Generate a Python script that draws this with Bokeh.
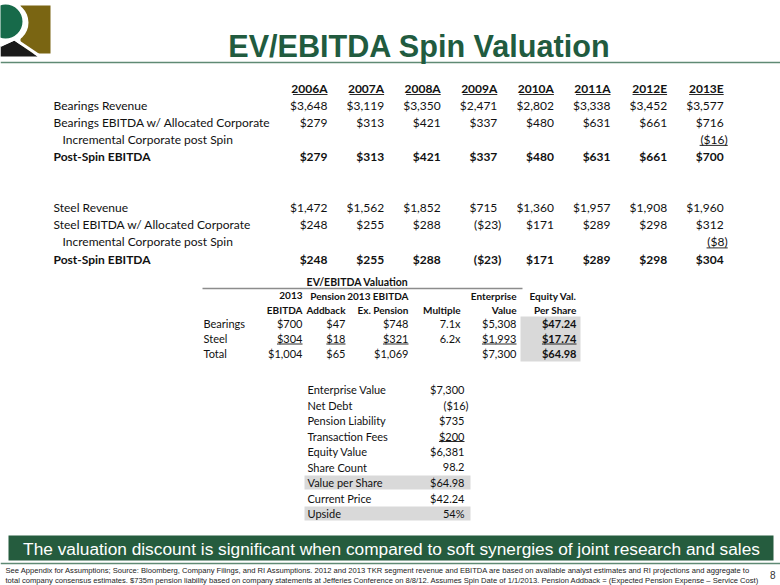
from bokeh.plotting import figure
from bokeh.models import Range1d, ColumnDataSource
from bokeh.core.properties import value
from bokeh.embed import file_html
from bokeh.resources import INLINE

# ---------------- data ----------------
title = "EV/EBITDA Spin Valuation"
years = ["2006A", "2007A", "2008A", "2009A", "2010A", "2011A", "2012E", "2013E"]
bear_labels = ["Bearings Revenue", "Bearings EBITDA w/ Allocated Corporate",
               "Incremental Corporate post Spin", "Post-Spin EBITDA"]
bear_revenue = [3648, 3119, 3350, 2471, 2802, 3338, 3452, 3577]
bear_ebitda = [279, 313, 421, 337, 480, 631, 661, 716]
bear_incr = [None, None, None, None, None, None, None, -16]
bear_post = [279, 313, 421, 337, 480, 631, 661, 700]
steel_labels = ["Steel Revenue", "Steel EBITDA w/ Allocated Corporate",
                "Incremental Corporate post Spin", "Post-Spin EBITDA"]
steel_revenue = [1472, 1562, 1852, 715, 1360, 1957, 1908, 1960]
steel_ebitda = [248, 255, 288, -23, 171, 289, 298, 312]
steel_incr = [None, None, None, None, None, None, None, -8]
steel_post = [248, 255, 288, -23, 171, 289, 298, 304]

val_title = "EV/EBITDA Valuation"
val_head1 = ["2013", "Pension", "2013 EBITDA", "", "Enterprise", "Equity Val."]
val_head2 = ["EBITDA", "Addback", "Ex. Pension", "Multiple", "Value", "Per Share"]
val_segments = ["Bearings", "Steel", "Total"]
ebitda_2013 = [700, 304, 1004]
pension_addback = [47, 18, 65]
ebitda_ex_pension = [748, 321, 1069]
multiple = [7.1, 6.2, None]
enterprise_value = [5308, 1993, 7300]
equity_per_share = [47.24, 17.74, 64.98]

bridge_labels = ["Enterprise Value", "Net Debt", "Pension Liability", "Transaction Fees",
                 "Equity Value", "Share Count", "Value per Share", "Current Price", "Upside"]
bridge_values = [7300, -16, 735, 200, 6381, 98.2, 64.98, 42.24, 0.54]
bridge_kinds = ["usd", "usd", "usd", "usd", "usd", "num", "usd2", "usd2", "pct"]
bridge_underline = [False, False, False, True, False, False, False, False, False]
bridge_shaded = [False, False, False, False, False, False, True, False, True]

banner = "The valuation discount is significant when compared to soft synergies of joint research and sales"
footer = [
    "See Appendix for Assumptions; Source: Bloomberg, Company Filings, and RI Assumptions. 2012 and 2013 TKR segment revenue and EBITDA are based on available analyst estimates and RI projections and aggregate to",
    "total company consensus estimates. $735m pension liability based on company statements at Jefferies Conference on 8/8/12. Assumes Spin Date of 1/1/2013. Pension Addback = (Expected Pension Expense \u2013 Service Cost)",
]
page_no = "8"

# ---------------- helpers ----------------
def usd(v, dec=0):
    if v is None:
        return ""
    s = f"${abs(v):,.{dec}f}"
    return f"({s})" if v < 0 else s

CW = {c: 0.58 for c in "0123456789$"}
CW.update({",": 0.24, ".": 0.24, "(": 0.3, ")": 0.3, "%": 0.8, "x": 0.5, " ": 0.19})

def tw(s, size):
    return sum(CW.get(c, 0.56) for c in s) * size

groups = {}
underlines = {"x0": [], "x1": [], "y": []}

def put(x, y, s, size=12, bold=False, align="left", font="Lato", color="#111111", ul=False):
    if s == "":
        return
    key = (size, bold, align, font, color)
    g = groups.setdefault(key, {"x": [], "y": [], "t": []})
    g["x"].append(x); g["y"].append(y); g["t"].append(s)
    if ul:
        w = tw(s, size)
        if align == "right":
            x0, x1 = x - w, x
        else:
            x0, x1 = x, x + w
        underlines["x0"].append(x0); underlines["x1"].append(x1)
        underlines["y"].append(y + 0.5 * size)

def put_num(xr, y, s, **kw):
    # negatives in parentheses hang a little to the right
    if s.startswith("("):
        xr = xr + 4
    put(xr, y, s, align="right", **kw)

# ---------------- figure ----------------
p = figure(width=780, height=585, x_range=Range1d(0, 780), y_range=Range1d(585, 0),
           output_backend="svg", toolbar_location=None, min_border=0,
           x_axis_location=None, y_axis_location=None)
p.grid.visible = False
p.outline_line_color = None
p.background_fill_color = "white"
p.border_fill_color = "white"

# logo
p.quad(left=[20], right=[50], top=[5], bottom=[53], fill_color="#7a6512", line_color=None)
p.circle(x=[7], y=[22], radius=21, fill_color="white", line_color=None)
p.circle(x=[5], y=[21], radius=17, fill_color="#176a4a", line_color=None)
p.patch(x=[0, 0, 14, 37], y=[56, 46, 40, 56], fill_color="#1a1a1a", line_color=None)
p.line(x=[0, 14, 40], y=[45, 38.5, 56], line_color="white", line_width=3)

# title + rule
put(419, 45, title, size=30.6, bold=True, align="center", font="Liberation Sans", color="#215b3f")
p.segment(x0=[0], x1=[780], y0=[62], y1=[62], line_color="#5f8a74", line_width=1.5)

# top table
col_r = [327 + 56.6 * i for i in range(len(years))]
lab_x, ind_x = 53, 62
for i, yv in enumerate(years):
    put(col_r[i], 88, yv, bold=True, align="right", ul=True)

def block(labels, series, y0):
    step = 17.2
    for r, (lab, ser) in enumerate(zip(labels, series)):
        y = y0 + r * step
        bold = r == 3
        put(ind_x if r == 2 else lab_x, y, lab, bold=bold)
        for i, v in enumerate(ser):
            s = usd(v)
            put_num(col_r[i], y, s, bold=bold, ul=(r == 2 and s != ""))

block(bear_labels, [bear_revenue, bear_ebitda, bear_incr, bear_post], 104.5)
block(steel_labels, [steel_revenue, steel_ebitda, steel_incr, steel_post], 207)

# valuation table
VS, VH = 11, 10
vcol = [302, 345, 408, 460, 516, 576]
p.quad(left=[520], right=[580], top=[316], bottom=[361], fill_color="#d9d9d9", line_color=None)
put(357, 281, val_title, size=10.5, bold=True, align="center")
p.segment(x0=[202], x1=[522], y0=[288], y1=[288], line_color="#8c8c8c", line_width=1.3)
for i in range(6):
    put(vcol[i], 295, val_head1[i], size=VH, bold=True, align="right")
    put(vcol[i], 309, val_head2[i], size=VH, bold=True, align="right")
for r, seg in enumerate(val_segments):
    y = 323 + r * 15
    ul = r == 1
    put(203, y, seg, size=VS)
    put_num(vcol[0], y, usd(ebitda_2013[r]), size=VS, ul=ul)
    put_num(vcol[1], y, usd(pension_addback[r]), size=VS, ul=ul)
    put_num(vcol[2], y, usd(ebitda_ex_pension[r]), size=VS, ul=ul)
    put_num(vcol[3], y, "" if multiple[r] is None else f"{multiple[r]:.1f}x", size=VS)
    put_num(vcol[4], y, usd(enterprise_value[r]), size=VS, ul=ul)
    put_num(vcol[5], y, usd(equity_per_share[r], 2), size=VS, bold=True, ul=ul)

# bridge table
bl, br = 307, 464
for r in range(len(bridge_labels)):
    yc = 389 + r * 15.5
    if bridge_shaded[r]:
        p.quad(left=[304], right=[470], top=[yc - 7], bottom=[yc + 7], fill_color="#d9d9d9", line_color=None)
for r, lab in enumerate(bridge_labels):
    y = 389 + r * 15.5
    v, k = bridge_values[r], bridge_kinds[r]
    if k == "usd":
        s = usd(v)
    elif k == "usd2":
        s = usd(v, 2)
    elif k == "pct":
        s = f"{v*100:.0f}%"
    else:
        s = f"{v:.1f}"
    put(bl, y, lab, size=VS)
    put_num(br, y, s, size=VS, ul=bridge_underline[r])

# banner
p.quad(left=[8], right=[773], top=[535], bottom=[560], fill_color="#255c3e", line_color=None)
put(391, 548, banner, size=17.3, align="center", font="Liberation Sans", color="white")
p.segment(x0=[0], x1=[780], y0=[563], y1=[563], line_color="#5f8a74", line_width=1.5)

# footer
put(5, 570, footer[0], size=7.6, font="Liberation Sans", color="#222222")
put(5, 580, footer[1], size=7.6, font="Liberation Sans", color="#222222")
put(775, 574, page_no, size=10, align="right", font="Liberation Sans", color="#333333")

# emit text glyphs
for (size, bold, align, font, color), g in groups.items():
    src = ColumnDataSource(dict(x=g["x"], y=g["y"], t=g["t"]))
    p.text(x="x", y="y", text="t", source=src, text_font=value(font),
           text_font_size=f"{size}px", text_font_style="bold" if bold else "normal",
           text_align=align, text_baseline="middle", text_color=color)

p.segment(x0="x0", x1="x1", y0="y", y1="y", source=ColumnDataSource(underlines),
          line_color="#111111", line_width=0.9)

open("out.html", "w").write(file_html(p, INLINE))
